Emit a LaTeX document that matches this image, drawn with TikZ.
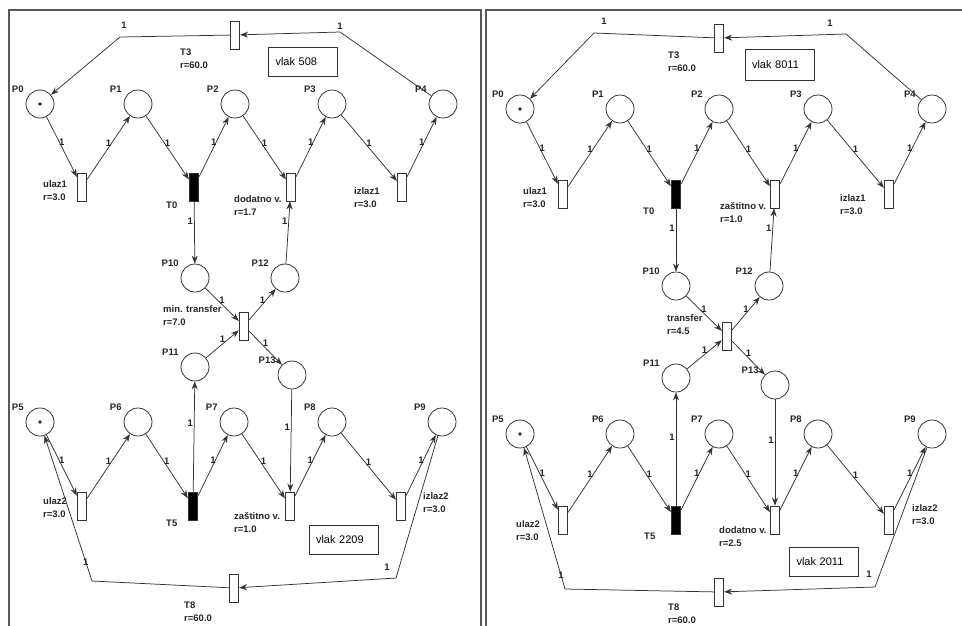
\documentclass[tikz,border=0pt]{standalone}
\usepackage{fontspec}
\setsansfont{Liberation Sans}
\usetikzlibrary{arrows.meta,positioning}

\begin{document}
\begin{tikzpicture}[
  x=1pt, y=-1pt,
  place/.style={circle, draw=black!80, line width=0.8pt, minimum size=28pt, inner sep=0pt,
    label={[lbl, xshift=-5pt]above left:#1}},
  marked/.style={path picture={\fill[black!85] (path picture bounding box.center) circle (1.8pt);}},
  trans/.style={rectangle, draw=black!80, line width=0.8pt, minimum width=9.5pt, minimum height=28pt, inner sep=0pt},
  busy/.style={fill=black},
  lbl/.style={font=\sffamily\bfseries\fontsize{9.5}{13}\selectfont, text=black!85, inner sep=1pt},
  tl/.style={lbl, anchor=north west, align=left},
  wt/.style={lbl},
  flow/.style={draw=black!80, line width=0.75pt, -{Stealth[length=8pt, width=6pt]}},
  note/.style={draw=black!80, line width=0.8pt, font=\sffamily\fontsize{11}{13}\selectfont,
    text width=55pt, align=left, inner xsep=7pt, minimum height=29pt},
  panel/.style={draw=black!65, line width=2pt}
]
\useasboundingbox (0,0) rectangle (962,625);
\clip (0,0) rectangle (962,625);
\draw[panel] (9,10) rectangle (480.5,660);
\draw[panel] (485.5,10) rectangle (990,660);

% ---- left panel: vlak 508 / vlak 2209
\node[place=P0, marked] (P0a) at (40,104) {};
\node[place=P1] (P1a) at (138,104) {};
\node[place=P2] (P2a) at (235,104) {};
\node[place=P3] (P3a) at (332,104) {};
\node[place=P4] (P4a) at (443,104) {};
\node[place=P10] (P10a) at (195,278) {};
\node[place=P12] (P12a) at (285,278) {};
\node[place=P11] (P11a) at (195,367) {};
\node[place=P13] (P13a) at (292,375) {};
\node[place=P5, marked] (P5a) at (40,422) {};
\node[place=P6] (P6a) at (138,422) {};
\node[place=P7] (P7a) at (234,422) {};
\node[place=P8] (P8a) at (332,422) {};
\node[place=P9] (P9a) at (442,422) {};

\node[trans] (T3a) at (235,35) {};
\node[trans] (ulaz1a) at (82,187) {};
\node[trans, busy] (T0a) at (194,187) {};
\node[trans] (dodatnoa) at (291,187) {};
\node[trans] (izlaz1a) at (402,187) {};
\node[trans] (transfera) at (244,326) {};
\node[trans] (ulaz2a) at (82,506) {};
\node[trans, busy] (T5a) at (193,506) {};
\node[trans] (zastitnoa) at (290,506) {};
\node[trans] (izlaz2a) at (401,506) {};
\node[trans] (T8a) at (234,588) {};

\node[tl] (T3a-l) at (179,48) {T3\\r=60.0};
\node[tl] (ulaz1a-l) at (42,179) {ulaz1\\r=3.0};
\node[tl] (T0a-l) at (165,201) {T0};
\node[tl] (dodatnoa-l) at (233,194) {dodatno v.\\r=1.7};
\node[tl] (izlaz1a-l) at (353,186) {izlaz1\\r=3.0};
\node[tl] (transfera-l) at (162,304) {min. transfer\\r=7.0};
\node[tl] (ulaz2a-l) at (42,496) {ulaz2\\r=3.0};
\node[tl] (T5a-l) at (165,519) {T5};
\node[tl] (zastitnoa-l) at (233,511) {zaštitno v.\\r=1.0};
\node[tl] (izlaz2a-l) at (422,491) {izlaz2\\r=3.0};
\node[tl] (T8a-l) at (183,601) {T8\\r=60.0};

\node[note] (vlak508) at (303,61.5) {vlak 508};
\node[note] (vlak2209) at (343.5,539.5) {vlak 2209};

\coordinate (k3a) at (120,37);
\coordinate (k4a) at (340,32);
\coordinate (k8a) at (92,581);
\coordinate (k9a) at (396,578);

\draw[flow] (P0a) -- node[wt, above] {1} (ulaz1a);
\draw[flow] (ulaz1a) -- node[wt, above] {1} (P1a);
\draw[flow] (P1a) -- node[wt, above] {1} (T0a);
\draw[flow] (T0a) -- node[wt, above] {1} (P2a);
\draw[flow] (P2a) -- node[wt, above] {1} (dodatnoa);
\draw[flow] (dodatnoa) -- node[wt, above] {1} (P3a);
\draw[flow] (P3a) -- node[wt, above] {1} (izlaz1a);
\draw[flow] (izlaz1a) -- node[wt, above] {1} (P4a);
\draw[flow] (P4a) -- (k4a) node[wt, above, yshift=1pt] {1} -- (T3a);
\draw[flow] (T3a) -- (k3a) node[wt, above right, yshift=7pt] {1} -- (P0a);
\draw[flow] (T0a) -- node[wt, pos=0.32, left] {1} (P10a);
\draw[flow] (P10a) -- node[wt, above] {1} (transfera);
\draw[flow] (P11a) -- node[wt, above] {1} (transfera);
\draw[flow] (transfera) -- node[wt, above] {1} (P12a);
\draw[flow] (transfera) -- node[wt, above] {1} (P13a);
\draw[flow] (P12a) -- node[wt, pos=0.68, left] {1} (dodatnoa);
\draw[flow] (T5a) -- node[wt, pos=0.62, left] {1} (P11a);
\draw[flow] (P13a) -- node[wt, pos=0.37, left] {1} (zastitnoa);
\draw[flow] (P5a) -- node[wt, above] {1} (ulaz2a);
\draw[flow] (ulaz2a) -- node[wt, above] {1} (P6a);
\draw[flow] (P6a) -- node[wt, above] {1} (T5a);
\draw[flow] (T5a) -- node[wt, above] {1} (P7a);
\draw[flow] (P7a) -- node[wt, above] {1} (zastitnoa);
\draw[flow] (zastitnoa) -- node[wt, above] {1} (P8a);
\draw[flow] (P8a) -- node[wt, above] {1} (izlaz2a);
\draw[flow] (izlaz2a) -- node[wt, above] {1} (P9a);
\draw[flow] (P9a) -- (k9a) node[wt, above left, xshift=-5pt, yshift=6pt] {1} -- (T8a);
\draw[flow] (T8a) -- (k8a) -- node[wt, pos=0.13] {1} (P5a);

% ---- right panel: vlak 8011 / vlak 2011
\node[place=P0, marked] (P0b) at (520,109) {};
\node[place=P1] (P1b) at (620,109) {};
\node[place=P2] (P2b) at (719,109) {};
\node[place=P3] (P3b) at (818,109) {};
\node[place=P4] (P4b) at (932,109) {};
\node[place=P10] (P10b) at (676,286) {};
\node[place=P12] (P12b) at (769,286) {};
\node[place=P11] (P11b) at (676,378) {};
\node[place=P13] (P13b) at (775,385) {};
\node[place=P5, marked] (P5b) at (520,434) {};
\node[place=P6] (P6b) at (620,434) {};
\node[place=P7] (P7b) at (719,434) {};
\node[place=P8] (P8b) at (818,434) {};
\node[place=P9] (P9b) at (932,434) {};

\node[trans] (T3b) at (719,38) {};
\node[trans] (ulaz1b) at (563,194) {};
\node[trans, busy] (T0b) at (676,194) {};
\node[trans] (zastitnob) at (775,194) {};
\node[trans] (izlaz1b) at (889,194) {};
\node[trans] (transferb) at (727,336) {};
\node[trans] (ulaz2b) at (563,520) {};
\node[trans, busy] (T5b) at (676,520) {};
\node[trans] (dodatnob) at (775,520) {};
\node[trans] (izlaz2b) at (889,520) {};
\node[trans] (T8b) at (719,592) {};

\node[tl] (T3b-l) at (667,51) {T3\\r=60.0};
\node[tl] (ulaz1b-l) at (522,186) {ulaz1\\r=3.0};
\node[tl] (T0b-l) at (642,207) {T0};
\node[tl] (zastitnob-l) at (719,201) {zaštitno v.\\r=1.0};
\node[tl] (izlaz1b-l) at (839,193) {izlaz1\\r=3.0};
\node[tl] (transferb-l) at (666,313) {transfer\\r=4.5};
\node[tl] (ulaz2b-l) at (515,519) {ulaz2\\r=3.0};
\node[tl] (T5b-l) at (643,532) {T5};
\node[tl] (dodatnob-l) at (718,525) {dodatno v.\\r=2.5};
\node[tl] (izlaz2b-l) at (911,503) {izlaz2\\r=3.0};
\node[tl] (T8b-l) at (667,603) {T8\\r=60.0};

\node[note, minimum height=31pt] (vlak8011) at (779.5,65) {vlak 8011};
\node[note] (vlak2011) at (824,561.5) {vlak 2011};

\coordinate (k3b) at (594,33);
\coordinate (k4b) at (846,34);
\coordinate (k8b) at (565,589);
\coordinate (k9b) at (875,587);

\draw[flow] (P0b) -- node[wt, above] {1} (ulaz1b);
\draw[flow] (ulaz1b) -- node[wt, above] {1} (P1b);
\draw[flow] (P1b) -- node[wt, above] {1} (T0b);
\draw[flow] (T0b) -- node[wt, above] {1} (P2b);
\draw[flow] (P2b) -- node[wt, above] {1} (zastitnob);
\draw[flow] (zastitnob) -- node[wt, above] {1} (P3b);
\draw[flow] (P3b) -- node[wt, above] {1} (izlaz1b);
\draw[flow] (izlaz1b) -- node[wt, above] {1} (P4b);
\draw[flow] (P4b) -- (k4b) node[wt, above left, xshift=-12pt, yshift=6pt] {1} -- (T3b);
\draw[flow] (T3b) -- (k3b) node[wt, above right, xshift=6pt, yshift=7pt] {1} -- (P0b);
\draw[flow] (T0b) -- node[wt, pos=0.31, left] {1} (P10b);
\draw[flow] (P10b) -- node[wt, above] {1} (transferb);
\draw[flow] (P11b) -- node[wt, above] {1} (transferb);
\draw[flow] (transferb) -- node[wt, above] {1} (P12b);
\draw[flow] (transferb) -- node[wt, above] {1} (P13b);
\draw[flow] (P12b) -- node[wt, pos=0.69, left] {1} (zastitnob);
\draw[flow] (T5b) -- node[wt, pos=0.6, left] {1} (P11b);
\draw[flow] (P13b) -- node[wt, pos=0.38, left] {1} (dodatnob);
\draw[flow] (P5b) -- node[wt, above] {1} (ulaz2b);
\draw[flow] (ulaz2b) -- node[wt, above] {1} (P6b);
\draw[flow] (P6b) -- node[wt, above] {1} (T5b);
\draw[flow] (T5b) -- node[wt, above] {1} (P7b);
\draw[flow] (P7b) -- node[wt, above] {1} (dodatnob);
\draw[flow] (dodatnob) -- node[wt, above] {1} (P8b);
\draw[flow] (P8b) -- node[wt, above] {1} (izlaz2b);
\draw[flow] (izlaz2b) -- node[wt, above] {1} (P9b);
\draw[flow] (P9b) -- (k9b) node[wt, above left, xshift=-2pt, yshift=8pt] {1} -- (T8b);
\draw[flow] (T8b) -- (k8b) -- node[wt, pos=0.1] {1} (P5b);
\end{tikzpicture}
\end{document}
